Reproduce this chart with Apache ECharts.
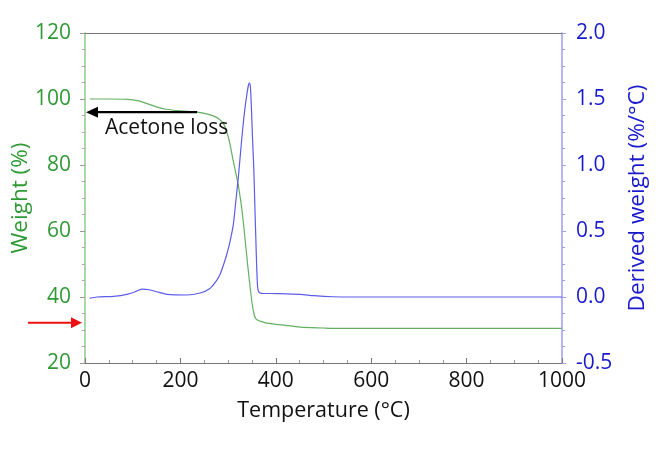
<!DOCTYPE html>
<html>
<head>
<meta charset="utf-8">
<script src="https://cdn.jsdelivr.net/npm/echarts@6/dist/echarts.min.js"></script>
<style>html,body{margin:0;padding:0;background:#fff;}#c{width:666px;height:449px;}</style>
</head>
<body>
<div id="c"></div>
<script>
// Temperature (°C) / weight (%) for the TGA curve
const weightT = [10,50,90,110,130,150,170,200,235,255,270,280,290,298,304,310,316,321,329,335,342,350,354,358,363,367,381,420,451,500,520,600,700,800,900,1000];
const weightV = [100,100,99.9,99.5,98.6,97.6,96.9,96.4,96.0,95.5,94.8,94.0,92.6,89.7,86.3,81.8,77.6,74.2,66.4,58.4,48.4,38.4,35.0,33.4,32.9,32.7,32.1,31.4,30.9,30.6,30.5,30.5,30.5,30.5,30.5,30.5];
// Temperature (°C) / derived weight (%/°C) for the DTG curve
const derivT = [10,25,60,88,105,119,135,150,172,213,241,262,275,283,290,297,304,311,316,321,325,330,335,340,343,345,347,349,351,354,356,358,360,362,365,370,400,451,480,520,560,600,700,800,900,1000];
const derivV = [-0.01,0,0.005,0.02,0.04,0.06,0.055,0.04,0.02,0.015,0.03,0.065,0.12,0.17,0.24,0.32,0.42,0.55,0.72,0.89,1.05,1.25,1.42,1.55,1.61,1.62,1.58,1.42,1.22,0.96,0.70,0.46,0.22,0.07,0.035,0.028,0.026,0.02,0.01,0.002,0,0,0,0,0,0];
// Axis ranges / ticks
const xTicks = {min:0, max:1000, interval:200};
const yLeft = {min:20, max:120, interval:20};
const yRight = {min:-0.5, max:2.0, interval:0.5};
// Annotation
const noteText = 'Acetone loss';
const noteArrow = {fromT:235, toT:0, w:96};
const residueW = 32.2;

const GREEN_TXT = '#2f9a35', GREEN_LINE = '#63b063', GREEN_AXIS = '#8ccc8c';
const BLUE_TXT = '#1a1acd', BLUE_LINE = '#5c5cec', BLUE_AXIS = '#9d9df0';
const FONT = 'Open Sans';

const chart = echarts.init(document.getElementById('c'), null, {renderer:'canvas'});
const option = {
  animation:false,
  backgroundColor:'#fff',
  grid:{left:85, right:104, top:33, bottom:86, containLabel:false, outerBoundsMode:'none'},
  xAxis:[{
    type:'value', min:xTicks.min, max:xTicks.max, interval:xTicks.interval,
    name:'Temperature (°C)', nameLocation:'middle', nameGap:37, nameMoveOverlap:false,
    nameTextStyle:{color:'#111', fontSize:21.5, fontFamily:FONT},
    axisLine:{show:true, onZero:false, lineStyle:{color:'#777', width:1}},
    axisTick:{show:true, inside:true, length:5, lineStyle:{color:'#777'}},
    minorTick:{show:true, splitNumber:4, length:3, lineStyle:{color:'#999'}},
    axisLabel:{color:'#111', fontSize:21, fontFamily:FONT, margin:8, formatter:v=>String(v)},
    splitLine:{show:false}
  },{
    type:'value', position:'top', min:xTicks.min, max:xTicks.max,
    axisLine:{show:true, onZero:false, lineStyle:{color:'#777', width:1}},
    axisTick:{show:false}, axisLabel:{show:false}, splitLine:{show:false}
  }],
  yAxis:[{
    type:'value', position:'left', min:yLeft.min, max:yLeft.max, interval:yLeft.interval,
    name:'Weight (%)', nameLocation:'middle', nameGap:53, nameMoveOverlap:false,
    nameTextStyle:{color:GREEN_TXT, fontSize:22.5, fontFamily:FONT},
    axisLine:{show:true, onZero:false, lineStyle:{color:GREEN_AXIS, width:1.5}},
    axisTick:{show:true, length:5, lineStyle:{color:'#999'}},
    minorTick:{show:true, splitNumber:4, length:3, lineStyle:{color:'#aaa'}},
    axisLabel:{color:GREEN_TXT, fontSize:21, fontFamily:FONT, margin:14},
    splitLine:{show:false}
  },{
    type:'value', position:'right', min:yRight.min, max:yRight.max, interval:yRight.interval,
    name:'Derived weight (%/°C)', nameLocation:'middle', nameGap:64, nameMoveOverlap:false,
    nameTextStyle:{color:BLUE_TXT, fontSize:22.5, fontFamily:FONT},
    axisLine:{show:true, onZero:false, lineStyle:{color:BLUE_AXIS, width:1.5}},
    axisTick:{show:true, length:4, lineStyle:{color:BLUE_AXIS}},
    minorTick:{show:true, splitNumber:4, length:3, lineStyle:{color:BLUE_AXIS}},
    axisLabel:{color:BLUE_TXT, fontSize:21, fontFamily:FONT, margin:14, formatter:v=>v.toFixed(1)},
    splitLine:{show:false}
  }],
  series:[{
    type:'line', name:'Weight', xAxisIndex:0, yAxisIndex:0,
    data: weightT.map((t,i)=>[t, weightV[i]]),
    showSymbol:false, smooth:0.25,
    lineStyle:{color:GREEN_LINE, width:1.2}
  },{
    type:'line', name:'Derived', xAxisIndex:0, yAxisIndex:1,
    data: derivT.map((t,i)=>[t, derivV[i]]),
    showSymbol:false, smooth:0.25,
    lineStyle:{color:BLUE_LINE, width:1.2}
  }]
};
chart.setOption(option);

const p1 = chart.convertToPixel({xAxisIndex:0, yAxisIndex:0}, [noteArrow.fromT, noteArrow.w]);
const p2 = chart.convertToPixel({xAxisIndex:0, yAxisIndex:0}, [noteArrow.toT, noteArrow.w]);
const pr = chart.convertToPixel({xAxisIndex:0, yAxisIndex:0}, [0, residueW]);
chart.setOption({
  graphic:[
    {type:'line', shape:{x1:p1[0], y1:p1[1], x2:p2[0]+10, y2:p2[1]}, style:{stroke:'#000', lineWidth:2.2}, z:100},
    {type:'polygon', shape:{points:[[p2[0]+1,p2[1]],[p2[0]+13,p2[1]-5.5],[p2[0]+13,p2[1]+5.5]]}, style:{fill:'#000'}, z:100},
    {type:'text', x:p2[0]+20, y:p2[1]+16, style:{text:noteText, fill:'#111', fontSize:21, fontFamily:FONT, verticalAlign:'middle'}, z:100},
    {type:'line', shape:{x1:28, y1:pr[1], x2:pr[0]-12, y2:pr[1]}, style:{stroke:'#ee1111', lineWidth:2.2}, z:100},
    {type:'polygon', shape:{points:[[pr[0]-3,pr[1]],[pr[0]-14,pr[1]-5.5],[pr[0]-14,pr[1]+5.5]]}, style:{fill:'#ee1111'}, z:100}
  ]
});
</script>
</body>
</html>
